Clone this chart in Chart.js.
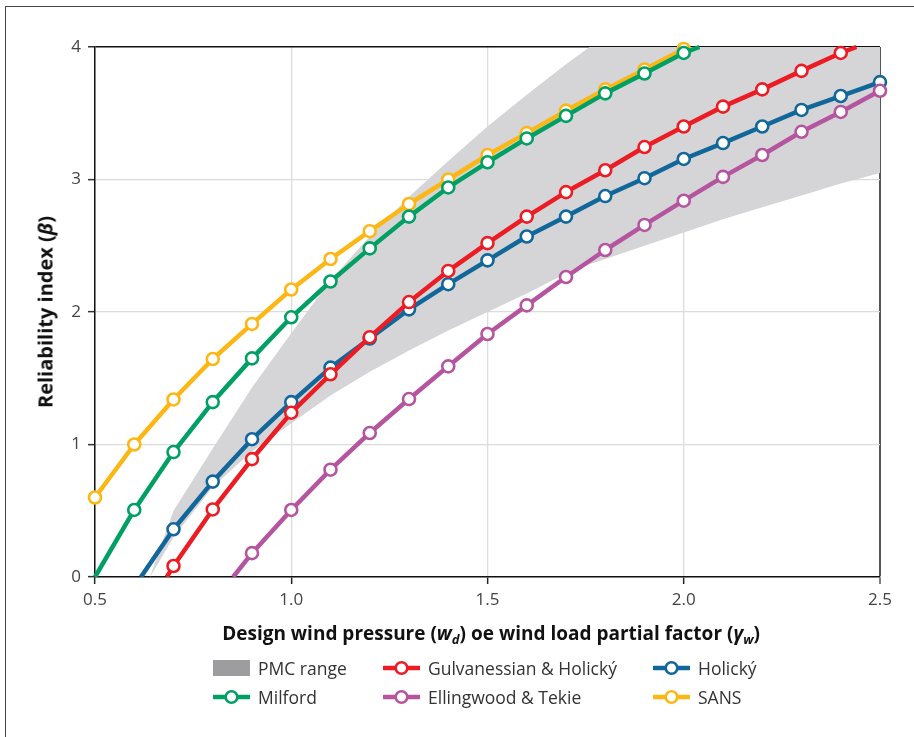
<!DOCTYPE html>
<html>
<head>
<meta charset="utf-8">
<script src="https://cdn.jsdelivr.net/npm/chart.js@4/dist/chart.umd.min.js"></script>
<style>
  html, body { margin: 0; padding: 0; background: #fff; }
  #wrap { position: relative; width: 914px; height: 737px; overflow: hidden; font-family: "Open Sans", "Noto Sans", sans-serif; }
  #frame { position: absolute; left: 5px; top: 6px; width: 1000px; height: 1000px; border-left: 1.5px solid #444; border-top: 1.5px solid #444; }
  canvas { position: absolute; left: 0; top: 0; }
  .ytitle { position: absolute; left: 45px; top: 312px; transform: translate(-50%, -50%) rotate(-90deg); white-space: nowrap; font-weight: 700; font-size: 20px; color: #111; }
  .xtitle { position: absolute; left: 491px; top: 633px; transform: translate(-50%, -50%); white-space: nowrap; font-weight: 700; font-size: 19px; color: #111; }
  .xtitle sub { font-size: 13px; vertical-align: -4px; line-height: 0; }
  .leg { position: absolute; display: flex; align-items: center; white-space: nowrap; font-size: 17.5px; color: #333; transform: translateY(-50%); }
  .leg svg { margin-right: 8px; }
</style>
</head>
<body>
<div id="wrap">
  <div id="frame"></div>
  <canvas id="c" width="914" height="737"></canvas>
  <div class="ytitle">Reliability index (<i>β</i>)</div>
  <div class="xtitle">Design wind pressure (<i>w<sub>d</sub></i>) oe wind load partial factor (<i>γ<sub>w</sub></i>)</div>
  <div id="legend"></div>
</div>
<script>
// ---- data ----
const xTickValues = [0.5, 1.0, 1.5, 2.0, 2.5];
const yTickValues = [0, 1, 2, 3, 4];

const pmcX     = [0.64, 0.7, 0.8, 0.9, 1.0, 1.1, 1.2, 1.3, 1.4, 1.5, 1.6, 1.7, 1.76, 1.8, 1.9, 2.0, 2.1, 2.2, 2.3, 2.4, 2.5];
const pmcUpper = [0.0, 0.50, 0.97, 1.43, 1.84, 2.24, 2.57, 2.87, 3.14, 3.40, 3.64, 3.87, 4.0, 4.0, 4.0, 4.0, 4.0, 4.0, 4.0, 4.0, 4.0];
const pmcLower = [0.0, 0.30, 0.68, 0.95, 1.16, 1.37, 1.55, 1.71, 1.86, 2.00, 2.14, 2.29, 2.36, 2.40, 2.50, 2.60, 2.70, 2.79, 2.88, 2.97, 3.05];

const sansX = [0.5, 0.6, 0.7, 0.8, 0.9, 1.0, 1.1, 1.2, 1.3, 1.4, 1.5, 1.6, 1.7, 1.8, 1.9, 2.0];
const sansY = [0.60, 1.00, 1.34, 1.645, 1.91, 2.17, 2.40, 2.61, 2.815, 3.00, 3.185, 3.35, 3.52, 3.68, 3.83, 3.985];

const milfordX = [0.5, 0.6, 0.7, 0.8, 0.9, 1.0, 1.1, 1.2, 1.3, 1.4, 1.5, 1.6, 1.7, 1.8, 1.9, 2.0, 2.04];
const milfordY = [0.0, 0.506, 0.943, 1.32, 1.65, 1.96, 2.23, 2.48, 2.72, 2.94, 3.13, 3.31, 3.48, 3.65, 3.80, 3.955, 4.0];

const holickyX = [0.617, 0.7, 0.8, 0.9, 1.0, 1.1, 1.2, 1.3, 1.4, 1.5, 1.6, 1.7, 1.8, 1.9, 2.0, 2.1, 2.2, 2.3, 2.4, 2.5];
const holickyY = [0.0, 0.36, 0.72, 1.04, 1.32, 1.58, 1.80, 2.02, 2.21, 2.39, 2.57, 2.72, 2.875, 3.01, 3.155, 3.275, 3.40, 3.525, 3.63, 3.735];

const gulvX = [0.683, 0.7, 0.8, 0.9, 1.0, 1.1, 1.2, 1.3, 1.4, 1.5, 1.6, 1.7, 1.8, 1.9, 2.0, 2.1, 2.2, 2.3, 2.4, 2.44];
const gulvY = [0.0, 0.083, 0.51, 0.89, 1.24, 1.53, 1.81, 2.075, 2.31, 2.52, 2.72, 2.905, 3.07, 3.245, 3.40, 3.55, 3.68, 3.82, 3.955, 4.0];

const ellX = [0.852, 0.9, 1.0, 1.1, 1.2, 1.3, 1.4, 1.5, 1.6, 1.7, 1.8, 1.9, 2.0, 2.1, 2.2, 2.3, 2.4, 2.5];
const ellY = [0.0, 0.18, 0.506, 0.81, 1.087, 1.343, 1.59, 1.834, 2.05, 2.264, 2.468, 2.657, 2.84, 3.02, 3.185, 3.36, 3.51, 3.67];

const seriesNames = ["PMC range", "Gulvanessian & Holický", "Holický", "Milford", "Ellingwood & Tekie", "SANS"];

// ---- styling ----
const COLORS = {
  pmc: "#d5d5d7", pmcLegend: "#9d9d9f",
  gulv: "#ec1c24", holicky: "#12679a", milford: "#00a064", ell: "#b5559f", sans: "#fdb714"
};

function pts(xs, ys) { return xs.map((x, i) => ({ x: x, y: ys[i] })); }
function markerRadius(ctx) {
  const r = ctx.raw; if (!r) return 0;
  const onGrid = Math.abs(r.x * 10 - Math.round(r.x * 10)) < 1e-6;
  if (!onGrid || r.y === 0 || r.y === 4) return 0;
  return 6;
}
function lineDs(label, xs, ys, color, order) {
  return {
    label: label, data: pts(xs, ys), borderColor: color, backgroundColor: "#fff",
    borderWidth: 4.5, pointRadius: markerRadius, pointHoverRadius: markerRadius,
    pointBackgroundColor: "#fff", pointBorderColor: color, pointBorderWidth: 2.6,
    fill: false, tension: 0, order: order, borderCapStyle: "butt", borderJoinStyle: "round",
    clip: { left: 10, right: 10, top: 8, bottom: 0 }
  };
}

const datasets = [
  { label: seriesNames[0], data: pts(pmcX, pmcUpper), borderWidth: 0, borderColor: "rgba(0,0,0,0)",
    backgroundColor: COLORS.pmc, pointRadius: 0, fill: "+1", order: 20, tension: 0, clip: 0 },
  { label: seriesNames[0] + " lower", data: pts(pmcX, pmcLower), borderWidth: 0, borderColor: "rgba(0,0,0,0)",
    pointRadius: 0, fill: false, order: 21, tension: 0, clip: 0 },
  lineDs(seriesNames[5], sansX, sansY, COLORS.sans, 6),
  lineDs(seriesNames[2], holickyX, holickyY, COLORS.holicky, 5),
  lineDs(seriesNames[1], gulvX, gulvY, COLORS.gulv, 4),
  lineDs(seriesNames[4], ellX, ellY, COLORS.ell, 3),
  lineDs(seriesNames[3], milfordX, milfordY, COLORS.milford, 2)
];

const tickFont = { family: "'Open Sans', 'Noto Sans', sans-serif", size: 17 };

new Chart(document.getElementById("c"), {
  type: "line",
  data: { datasets: datasets },
  options: {
    responsive: false, animation: false, devicePixelRatio: 1,
    layout: { padding: { left: 0, right: 34, top: 47, bottom: 0 } },
    plugins: { legend: { display: false }, tooltip: { enabled: false } },
    scales: {
      x: {
        type: "linear", min: 0.5, max: 2.5,
        afterFit: s => { s.height = 160; },
        afterBuildTicks: s => { s.ticks = xTickValues.map(v => ({ value: v })); },
        ticks: { font: tickFont, color: "#444", padding: 6, maxRotation: 0, callback: v => Number(v).toFixed(1) },
        grid: {
          color: c => (c.tick && c.tick.value === 2.5) ? "#555" : "#dcdcdc",
          lineWidth: c => (c.tick && c.tick.value === 2.5) ? 2 : 1.3,
          tickColor: c => (c.tick && c.tick.value === 2.5) ? "#555" : "#222",
          tickLength: 7, tickWidth: 1.5
        },
        border: { color: "#111", width: 1.5 }
      },
      y: {
        type: "linear", min: 0, max: 4,
        afterFit: s => { s.width = 95; },
        afterBuildTicks: s => { s.ticks = yTickValues.map(v => ({ value: v })); },
        ticks: { font: tickFont, color: "#444", padding: 7, callback: v => String(v) },
        grid: {
          color: c => (c.tick && c.tick.value === 4) ? "#111" : "#dcdcdc",
          lineWidth: c => (c.tick && c.tick.value === 4) ? 1.5 : 1.3,
          tickColor: "#333", tickLength: 7, tickWidth: 1.5
        },
        border: { color: "#111", width: 1.5 }
      }
    }
  }
});

// ---- HTML legend ----
const legendItems = [
  { name: seriesNames[0], type: "box", color: COLORS.pmcLegend, left: 213, top: 668 },
  { name: seriesNames[1], type: "line", color: COLORS.gulv, left: 383, top: 668 },
  { name: seriesNames[2], type: "line", color: COLORS.holicky, left: 653, top: 668 },
  { name: seriesNames[3], type: "line", color: COLORS.milford, left: 213, top: 697 },
  { name: seriesNames[4], type: "line", color: COLORS.ell, left: 383, top: 697 },
  { name: seriesNames[5], type: "line", color: COLORS.sans, left: 653, top: 697 }
];
const legendEl = document.getElementById("legend");
legendItems.forEach(it => {
  const d = document.createElement("div");
  d.className = "leg";
  d.style.left = it.left + "px";
  d.style.top = it.top + "px";
  let sw;
  if (it.type === "box") {
    sw = '<svg width="37" height="16"><rect x="0" y="0" width="37" height="16" fill="' + it.color + '"/></svg>';
  } else {
    sw = '<svg width="37" height="16"><line x1="1" y1="8" x2="36" y2="8" stroke="' + it.color + '" stroke-width="4.5" stroke-linecap="round"/>' +
         '<circle cx="18.5" cy="8" r="5.8" fill="#fff" stroke="' + it.color + '" stroke-width="2.6"/></svg>';
  }
  d.innerHTML = sw + '<span></span>';
  d.querySelector("span").textContent = it.name;
  legendEl.appendChild(d);
});
</script>
</body>
</html>
